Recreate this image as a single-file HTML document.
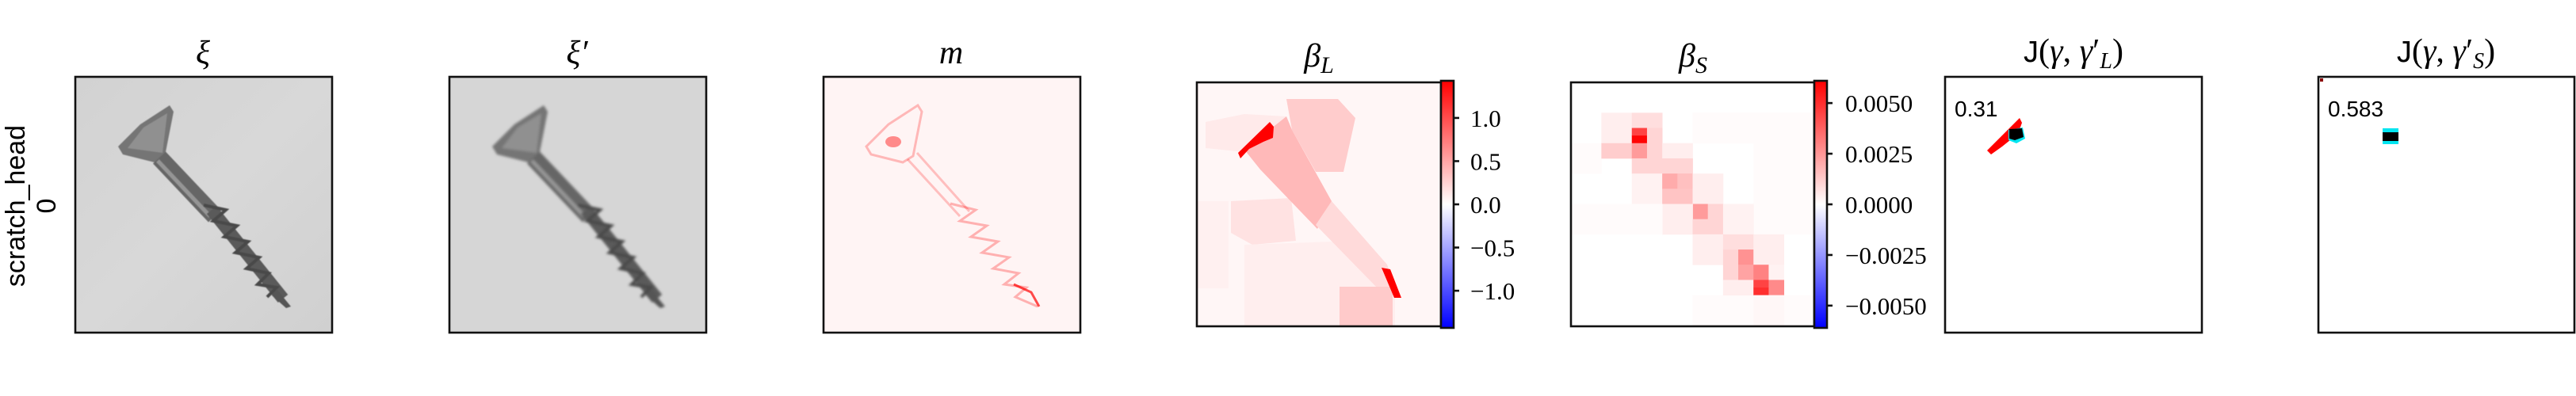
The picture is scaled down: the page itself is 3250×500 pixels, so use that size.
<!DOCTYPE html>
<html><head><meta charset="utf-8"><style>
html,body{margin:0;padding:0;background:#fff;}
svg{display:block;}
.ttl{font-family:"Liberation Serif",serif;font-style:italic;font-size:42px;}
.tick{font-family:"Liberation Serif",serif;font-size:31px;}
</style></head><body>
<svg id="fig" width="3250" height="500" viewBox="0 0 3250 500" xmlns="http://www.w3.org/2000/svg">
<defs>
<linearGradient id="bwr" x1="0" y1="1" x2="0" y2="0">
<stop offset="0" stop-color="#0000ff"/><stop offset="0.5" stop-color="#ffffff"/><stop offset="1" stop-color="#ff0000"/>
</linearGradient>
<linearGradient id="bgGray" x1="0" y1="0" x2="1" y2="1">
<stop offset="0" stop-color="#d2d2d2"/><stop offset="0.5" stop-color="#d8d8d8"/><stop offset="1" stop-color="#d0d0d0"/>
</linearGradient>
<filter id="blur2"><feGaussianBlur stdDeviation="1.6"/></filter>
<filter id="blur1"><feGaussianBlur stdDeviation="0.6"/></filter>
<g id="screw">
<polygon points="119,36 124,44 113,100 100,108 60,98 54,88 82,60" fill="#747474"/>
<polygon points="116,46 110,96 66,90 86,64" fill="#909090"/>
<line x1="106" y1="102" x2="176" y2="176" stroke="#666" stroke-width="22"/>
<line x1="104" y1="106" x2="170" y2="176" stroke="#959595" stroke-width="5"/>
<line x1="172" y1="168" x2="262" y2="280" stroke="#5a5a5a" stroke-width="16"/>
<polyline points="162,162 190,168 174,182 204,188 188,202 218,208 202,222 232,228 216,242 244,248 230,262 254,266 242,278" fill="none" stroke="#4a4a4a" stroke-width="4"/>
<polygon points="254,268 272,290 266,292 248,276" fill="#555"/>
</g>
<g id="screwRed" fill="none" stroke="#ff0000">
<polygon points="119,36 124,44 113,100 100,108 60,98 54,88 82,60" stroke-width="3" stroke-opacity="0.25"/>
<ellipse cx="88" cy="82" rx="10" ry="7" fill="#ff2020" fill-opacity="0.5" stroke="none"/>
<line x1="106" y1="104" x2="172" y2="176" stroke-width="3" stroke-opacity="0.22"/>
<line x1="118" y1="96" x2="184" y2="170" stroke-width="3" stroke-opacity="0.22"/>
<polyline points="160,160 192,168 172,182 206,188 186,202 220,208 200,222 234,228 214,242 246,248 228,262 256,266 242,278 270,290" stroke-width="3" stroke-opacity="0.28"/>
<polyline points="240,262 262,272 272,290" stroke-width="3" stroke-opacity="0.7"/>
</g>
</defs>

<text transform="translate(31,260) rotate(-90)" text-anchor="middle" font-family="Liberation Sans, sans-serif" font-size="34">scratch_head</text>
<text transform="translate(70,260) rotate(-90)" text-anchor="middle" font-family="Liberation Sans, sans-serif" font-size="34">0</text>

<g>
<text class="ttl" x="256" y="80" text-anchor="middle">ξ</text>
<g transform="translate(95,97)">
<rect width="324" height="323" fill="url(#bgGray)"/>
<use href="#screw" filter="url(#blur1)"/>
<rect width="324" height="323" fill="none" stroke="#111" stroke-width="2.6"/>
</g>
</g>
<g>
<text class="ttl" x="728" y="80" text-anchor="middle">ξ′</text>
<g transform="translate(567,97)">
<rect width="324" height="323" fill="#d6d6d6"/>
<use href="#screw" filter="url(#blur2)"/>
<rect width="324" height="323" fill="none" stroke="#111" stroke-width="2.6"/>
</g>
</g>
<g>
<text class="ttl" x="1200" y="80" text-anchor="middle">m</text>
<g transform="translate(1039,97)">
<rect width="324" height="323" fill="#fff4f4"/>
<use href="#screwRed"/>
<rect width="324" height="323" fill="none" stroke="#111" stroke-width="2.6"/>
</g>
</g>

<g>
<text class="ttl" x="1664" y="84" text-anchor="middle">β<tspan font-size="30" dy="8">L</tspan></text>
<g transform="translate(1510,104)">
<rect width="308" height="308" fill="#fff6f6"/>
<polygon points="11,50 60,40 113,43 113,83 60,88 11,83" fill="#ffeaea"/>
<polygon points="43,150 119,146 125,200 70,205 43,190" fill="#ffe2e2"/>
<polygon points="0,150 40,150 40,260 0,260" fill="#fff0f0"/>
<polygon points="60,205 200,200 250,250 250,308 60,308" fill="#ffeeee"/>
<polygon points="113,21 178,21 200,45 185,113 150,113 120,60" fill="#ffcccc"/>
<polygon points="60,85 113,43 120,60 170,150 152,185 80,110" fill="#ffb9b9"/>
<polygon points="150,180 170,150 240,230 250,258 230,262" fill="#ffdada"/>
<polygon points="180,258 247,258 247,308 180,308" fill="#ffcaca"/>
<polygon points="52,89 92,50 97,56 96,70 84,75 66,84 55,96" fill="#ff0000"/>
<polygon points="233,234 244,236 258,272 249,272" fill="#ff0000"/>
<rect width="308" height="308" fill="none" stroke="#111" stroke-width="2.6"/>
</g>
<g id="cbL"></g>
</g>

<g>
<text class="ttl" x="2136" y="84" text-anchor="middle">β<tspan font-size="30" dy="8">S</tspan></text>
<g transform="translate(1982,104)">
<g id="bsCells"></g>
<rect width="307" height="308" fill="none" stroke="#111" stroke-width="2.6"/>
</g>
<g id="cbS"></g>
</g>

<g>
<text x="2616" y="78" text-anchor="middle" font-family="Liberation Serif, serif" font-size="42"><tspan font-family="Liberation Sans, sans-serif" font-size="38">J</tspan>(<tspan font-style="italic">γ</tspan>, <tspan font-style="italic">γ</tspan>′<tspan font-style="italic" font-size="28" dy="8">L</tspan><tspan dy="-8">)</tspan></text>
<g transform="translate(2454,97)">
<rect width="324" height="323" fill="#fff"/>
<polygon points="53,93 94,52 97,58 92,72 72,88 58,98" fill="#ff0000"/>
<polygon points="80,67 98,64 101,78 90,84 80,80" fill="#00e5f0"/>
<polygon points="81,66 97,65 99,76 88,80 81,78" fill="#000"/>
<text x="12" y="50" font-family="Liberation Sans, sans-serif" font-size="28">0.31</text>
<rect width="324" height="323" fill="none" stroke="#111" stroke-width="2.6"/>
</g>
</g>
<g>
<text x="3086" y="78" text-anchor="middle" font-family="Liberation Serif, serif" font-size="42"><tspan font-family="Liberation Sans, sans-serif" font-size="38">J</tspan>(<tspan font-style="italic">γ</tspan>, <tspan font-style="italic">γ</tspan>′<tspan font-style="italic" font-size="28" dy="8">S</tspan><tspan dy="-8">)</tspan></text>
<g transform="translate(2925,97)">
<rect width="324" height="323" fill="#fff"/>
<rect x="81" y="65" width="20" height="20" fill="#00e5f0"/>
<rect x="81" y="70" width="20" height="11" fill="#000"/>
<rect x="2" y="2" width="4" height="4" fill="#8b0000"/>
<text x="12" y="50" font-family="Liberation Sans, sans-serif" font-size="28">0.583</text>
<rect width="323" height="323" fill="none" stroke="#111" stroke-width="2.6"/>
</g>
</g>
</svg>
<script>
const bsRow  = [8,16,4,8,28,28, 4,4,6,7,6, 8,8,8,8, 10,12,12,12,14,12,16,16,16,18,16,16,20,20,22,22,20,24,24,24,24,26,26,27,26,28];
const bsCol  = [0,0,16,24,16,28, 4,8,8,8,10, 4,8,10,12, 8,8,12,14,12,16,16,18,12,16,20,0,16,20,20,22,24,20,22,24,26,20,24,24,26,24];
const bsSpanR= [4,4,4,12,4,4, 4,2,1,1,2, 2,2,2,2, 2,4,2,2,2,4,2,2,4,2,4,4,4,2,2,2,4,2,2,2,2,2,1,1,2,4];
const bsSpanC= [4,12,16,8,8,4, 4,4,2,2,2, 4,2,2,4, 8,4,2,2,4,4,2,2,4,4,4,12,4,4,2,2,4,2,2,2,2,4,2,2,2,4];
const bsValue= [0.0001,0.0001,0.0001,0.0001,0.0001,0.0001, 0.0004,0.0008,0.0045,0.006,0.001, 0.0012,0.0024,0.001,0.0004, 0.001,0.0003,0.002,0.0015,0.0014,0.0004,0.0024,0.001,0.0004,0.001,0.0003,0.0001,0.0004,0.0008,0.001,0.0026,0.0004,0.001,0.0022,0.003,0.0003,0.0004,0.0045,0.005,0.0028,0.0002];
const bsVmax = 0.0061;
const blVmax = 1.43;
const blTickValues = [1.0,0.5,0.0,-0.5,-1.0];
const blTickLabels = ["1.0","0.5","0.0","−0.5","−1.0"];
const bsTickValues = [0.005,0.0025,0.0,-0.0025,-0.005];
const bsTickLabels = ["0.0050","0.0025","0.0000","−0.0025","−0.0050"];

const NS = "http://www.w3.org/2000/svg";
function bwr(v, vmax){
  let t = Math.max(-1, Math.min(1, v / vmax));
  if (t >= 0){ const g = Math.round(255*(1-t)); return `rgb(255,${g},${g})`; }
  const g = Math.round(255*(1+t)); return `rgb(${g},${g},255)`;
}
const cell = 307/32;
const cellsG = document.getElementById('bsCells');
const bg = document.createElementNS(NS,'rect');


bg.setAttribute('width',307); bg.setAttribute('height',308); bg.setAttribute('fill','#fff');
cellsG.appendChild(bg);
for (let i=0;i<bsValue.length;i++){
  const r = document.createElementNS(NS,'rect');
  
  
  r.setAttribute('x', (bsCol[i]*cell).toFixed(2));
  r.setAttribute('y', (bsRow[i]*cell).toFixed(2));
  r.setAttribute('width', (bsSpanC[i]*cell+0.4).toFixed(2));
  r.setAttribute('height', (bsSpanR[i]*cell+0.4).toFixed(2));
  r.setAttribute('fill', bwr(bsValue[i], bsVmax));
  cellsG.appendChild(r);
}
function colorbar(gid, x, y0, y1, vmax, vals, labels, labelX){
  const g = document.getElementById(gid);
  const yOf = v => (y0+y1)/2 - v/vmax*(y1-y0)/2;
  const bar = document.createElementNS(NS,'rect');
  
  
  bar.setAttribute('x',x); bar.setAttribute('y',y0);
  bar.setAttribute('width',16); bar.setAttribute('height',y1-y0);
  bar.setAttribute('fill','url(#bwr)'); bar.setAttribute('stroke','#111'); bar.setAttribute('stroke-width','2.6');
  g.appendChild(bar);
  for (let i=0;i<vals.length;i++){
    const y = yOf(vals[i]);
    const t = document.createElementNS(NS,'line');
    
    
    t.setAttribute('x1',x+16); t.setAttribute('x2',x+23);
    t.setAttribute('y1',y); t.setAttribute('y2',y);
    t.setAttribute('stroke','#111'); t.setAttribute('stroke-width','2.6');
    g.appendChild(t);
    const tx = document.createElementNS(NS,'text');
    
    
    tx.setAttribute('class','tick');
    tx.setAttribute('x',labelX); tx.setAttribute('y',y+11);
    tx.textContent = labels[i];
    g.appendChild(tx);
  }
}
colorbar('cbL', 1818, 102, 414, blVmax, blTickValues, blTickLabels, 1855);
colorbar('cbS', 2289, 102, 414, bsVmax, bsTickValues, bsTickLabels, 2328);
</script>
</body></html>
